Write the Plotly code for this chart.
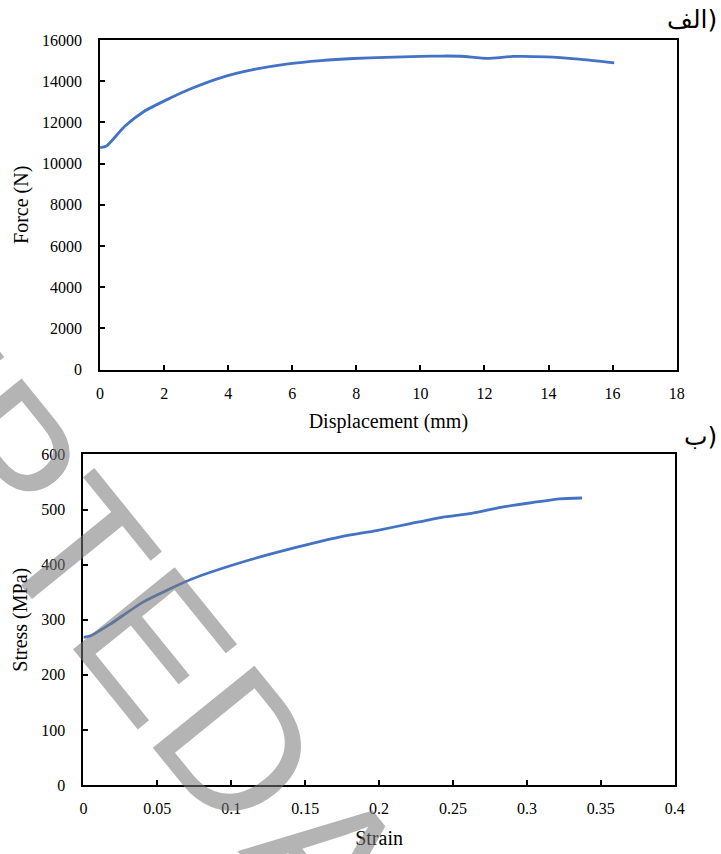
import plotly.graph_objects as go

# ---- data: (a) force-displacement ----
disp = [0, 0.2, 0.77, 1.38, 2.19, 2.81, 3.83, 4.85, 5.87, 6.89, 7.91, 8.9, 10.0,
        10.66, 11.27, 12.09, 12.9, 13.92, 14.94, 16.05]
force = [10770, 10850, 11810, 12540, 13180, 13620, 14200, 14580, 14840, 15000,
         15100, 15150, 15200, 15220, 15210, 15110, 15200, 15180, 15070, 14890]

# ---- data: (b) stress-strain ----
strain = [0, 0.0049, 0.0181, 0.0403, 0.0734, 0.1066, 0.1399, 0.1731, 0.1983,
          0.2204, 0.2426, 0.2625, 0.2824, 0.3045, 0.3222, 0.3373]
stress = [268, 271, 292, 332, 374, 404, 428.5, 450, 462, 474, 486, 493, 504,
          513, 519.5, 521]

# ---- tick labels ----
x1_ticks = [0, 2, 4, 6, 8, 10, 12, 14, 16, 18]
x1_text = ["0", "2", "4", "6", "8", "10", "12", "14", "16", "18"]
y1_ticks = [0, 2000, 4000, 6000, 8000, 10000, 12000, 14000, 16000]
y1_text = ["0", "2000", "4000", "6000", "8000", "10000", "12000", "14000", "16000"]
x2_ticks = [0, 0.05, 0.1, 0.15, 0.2, 0.25, 0.3, 0.35, 0.4]
x2_text = ["0", "0.05", "0.1", "0.15", "0.2", "0.25", "0.3", "0.35", "0.4"]
y2_ticks = [0, 100, 200, 300, 400, 500, 600]
y2_text = ["0", "100", "200", "300", "400", "500", "600"]

W, H = 721, 854
BLUE = "#4472C4"
SERIF = "Liberation Serif, Times New Roman, serif"


def px(x):
    return x / W


def py(y):
    # empirical mapping of target pixel row to paper fraction
    return 1 - (y - 8) / 838


fig = go.Figure()
fig.add_trace(go.Scatter(x=disp, y=force, mode="lines", xaxis="x", yaxis="y",
                         line=dict(color=BLUE, width=2.8, shape="spline", smoothing=0.6),
                         showlegend=False))
fig.add_trace(go.Scatter(x=strain, y=stress, mode="lines", xaxis="x2", yaxis="y2",
                         line=dict(color=BLUE, width=2.8, shape="spline", smoothing=0.6),
                         showlegend=False))

axis_common = dict(showline=True, linecolor="black", linewidth=2, mirror=True,
                   ticks="inside", ticklen=5, tickwidth=1.5, tickcolor="black",
                   showgrid=False, zeroline=False,
                   tickfont=dict(family=SERIF, size=16, color="black"),
                   title_font=dict(family=SERIF, size=20, color="black"))

fig.update_layout(
    width=W, height=H,
    margin=dict(l=0, r=0, t=0, b=0),
    paper_bgcolor="white", plot_bgcolor="white",
    xaxis=dict(axis_common, domain=[px(98), px(686)], range=[0, 18], anchor="y",
               tickvals=x1_ticks, ticktext=x1_text, ticklabelstandoff=8,
               title=dict(text="Displacement (mm)", standoff=13)),
    yaxis=dict(axis_common, domain=[py(370), py(40)], range=[0, 16000], anchor="x",
               tickvals=y1_ticks, ticktext=y1_text, ticklabelstandoff=13,
               title=dict(text="Force (N)", standoff=8)),
    xaxis2=dict(axis_common, domain=[px(81), px(684)], range=[0, 0.4], anchor="y2",
                tickvals=x2_ticks, ticktext=x2_text, ticklabelstandoff=8,
                title=dict(text="Strain", standoff=15)),
    yaxis2=dict(axis_common, domain=[py(786), py(455)], range=[0, 600], anchor="x2",
                tickvals=y2_ticks, ticktext=y2_text, ticklabelstandoff=13,
                title=dict(text="Stress (MPa)", standoff=8)),
)

# panel labels (Persian)
fig.add_annotation(text="الف)", x=px(729), y=py(20), xref="paper", yref="paper",
                   xanchor="right", yanchor="middle", showarrow=False,
                   font=dict(family="DejaVu Sans, Noto Sans", size=25, color="black"))
fig.add_annotation(text="ب)", x=px(729), y=py(437), xref="paper", yref="paper",
                   xanchor="right", yanchor="middle", showarrow=False,
                   font=dict(family="DejaVu Sans, Noto Sans", size=25, color="black"))

# watermark
wm_font = dict(family="Liberation Sans, Arial, sans-serif", size=190, color="rgb(120,120,120)")
fig.add_annotation(text="ACCEPTED", x=px(-49.5), y=py(399), xref="paper", yref="paper",
                   xanchor="center", yanchor="middle", showarrow=False, textangle=51,
                   font=wm_font, opacity=0.55)
fig.add_annotation(text="A", x=px(331), y=py(860), xref="paper", yref="paper",
                   xanchor="center", yanchor="middle", showarrow=False, textangle=51,
                   font=wm_font, opacity=0.55)

fig.write_html("out.html")
